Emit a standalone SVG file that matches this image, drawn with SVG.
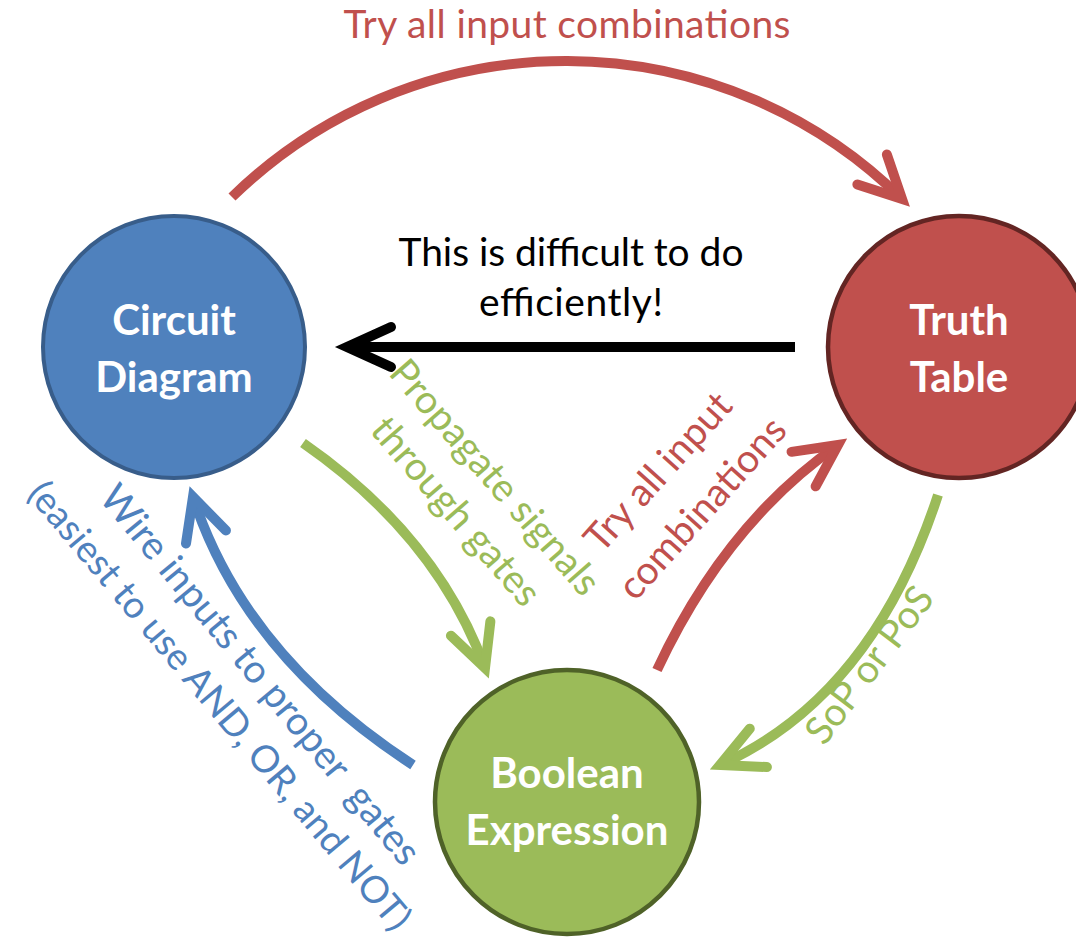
<svg xmlns="http://www.w3.org/2000/svg" width="1076" height="945" viewBox="0 0 1076 945">
<style>
.lbl{font-family:Lato,"Open Sans","Liberation Sans",sans-serif;font-size:39px;text-anchor:middle;white-space:pre}
.node{font-family:Lato,"Open Sans","Liberation Sans",sans-serif;font-size:42px;font-weight:bold;fill:#fff;text-anchor:middle}
.red{fill:#C0504D}.green{fill:#9BBB59}.blue{fill:#4F81BD}.black{fill:#000}
.conn{fill:none;stroke-width:10}
</style>
<defs>
<marker id="mRed" markerUnits="userSpaceOnUse" orient="auto" overflow="visible" markerWidth="10" markerHeight="10" refX="0" refY="0">
<path d="M -42 -21 L 0 0 L -42 21" fill="none" stroke="#C0504D" stroke-width="10" stroke-linecap="round" stroke-linejoin="miter"/>
</marker>
<marker id="mGreen" markerUnits="userSpaceOnUse" orient="auto" overflow="visible" markerWidth="10" markerHeight="10" refX="0" refY="0">
<path d="M -42 -21 L 0 0 L -42 21" fill="none" stroke="#9BBB59" stroke-width="10" stroke-linecap="round" stroke-linejoin="miter"/>
</marker>
<marker id="mBlue" markerUnits="userSpaceOnUse" orient="auto" overflow="visible" markerWidth="10" markerHeight="10" refX="0" refY="0">
<path d="M -42 -21 L 0 0 L -42 21" fill="none" stroke="#4F81BD" stroke-width="10" stroke-linecap="round" stroke-linejoin="miter"/>
</marker>
<marker id="mBlack" markerUnits="userSpaceOnUse" orient="auto" overflow="visible" markerWidth="10" markerHeight="10" refX="0" refY="0">
<path d="M -44 -20 L 0 0 L -44 20" fill="none" stroke="#000" stroke-width="10" stroke-linecap="round" stroke-linejoin="miter"/>
</marker>
</defs>
<rect width="1076" height="945" fill="#fff"/>

<g id="connectors">
<path class="conn" stroke="#C0504D" d="M 232 197 A 478 478 0 0 1 902 199" marker-end="url(#mRed)"/>
<path class="conn" stroke="#000" d="M 795 347 L 347 347" marker-end="url(#mBlack)"/>
<path class="conn" stroke="#9BBB59" d="M 303 443 Q 437 536 485 668" marker-end="url(#mGreen)"/>
<path class="conn" stroke="#C0504D" d="M 657 670 Q 725 524 838 445" marker-end="url(#mRed)"/>
<path class="conn" stroke="#9BBB59" d="M 938 495 Q 872 697 720 765" marker-end="url(#mGreen)"/>
<path class="conn" stroke="#4F81BD" d="M 413 765 Q 244.5 655.6 193 497" marker-end="url(#mBlue)"/>
</g>

<g id="labels">
<text class="lbl red" x="567" y="38" textLength="447" lengthAdjust="spacing">Try all input combinations</text>
<text class="lbl black" x="571" y="266" textLength="345" lengthAdjust="spacing">This is difficult to do</text>
<text class="lbl black" x="571" y="316" textLength="184" lengthAdjust="spacing">efficiently!</text>
<text class="lbl green" transform="translate(485 486) rotate(49)">Propagate signals</text>
<text class="lbl green" transform="translate(446 520) rotate(49)">through gates</text>
<text class="lbl red" transform="translate(668 481) rotate(-48)">Try all input</text>
<text class="lbl red" transform="translate(712 517) rotate(-48)">combinations</text>
<text class="lbl green" transform="translate(880 673) rotate(-53)">SoP or PoS</text>
<text class="lbl blue" xml:space="preserve" transform="translate(250 683) rotate(50.5)">Wire inputs to proper  gates</text>
<text class="lbl blue" style="font-size:37.5px" transform="translate(210 714) rotate(50)">(easiest to use AND, OR, and NOT)</text>
</g>

<g id="circuit-diagram">
<circle cx="174" cy="347" r="131" fill="#4F81BD" stroke="#385D8A" stroke-width="4"/>
<text class="node" x="174" y="335">Circuit</text>
<text class="node" x="174" y="392">Diagram</text>
</g>
<g id="truth-table">
<circle cx="959" cy="347" r="131" fill="#C0504D" stroke="#632523" stroke-width="4.5"/>
<text class="node" x="959" y="335">Truth</text>
<text class="node" x="959" y="392">Table</text>
</g>
<g id="boolean-expression">
<circle cx="567" cy="802" r="132" fill="#9BBB59" stroke="#4F6228" stroke-width="4.5"/>
<text class="node" x="567" y="788">Boolean</text>
<text class="node" x="567" y="845">Expression</text>
</g>
</svg>
